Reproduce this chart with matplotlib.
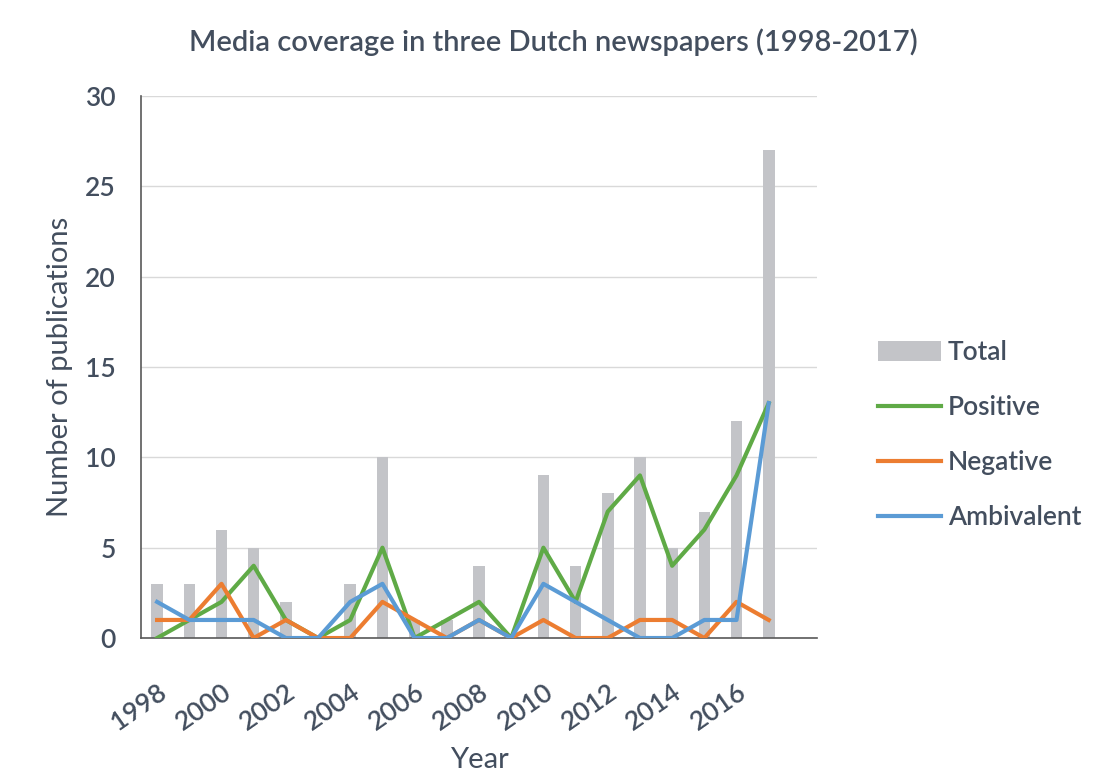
import matplotlib.pyplot as plt
import numpy as np

years = list(range(1998, 2018))
total = [3, 3, 6, 5, 2, 0, 3, 10, 1, 1, 4, 0, 9, 4, 8, 10, 5, 7, 12, 27]
positive = [0, 1, 2, 4, 1, 0, 1, 5, 0, 1, 2, 0, 5, 2, 7, 9, 4, 6, 9, 13]
negative = [1, 1, 3, 0, 1, 0, 0, 2, 1, 0, 1, 0, 1, 0, 0, 1, 1, 0, 2, 1]
ambivalent = [2, 1, 1, 1, 0, 0, 2, 3, 0, 0, 1, 0, 3, 2, 1, 0, 0, 1, 1, 13]

text_color = '#434E5E'
plt.rcParams['font.family'] = ['Lato', 'DejaVu Sans']
plt.rcParams['font.weight'] = 'semibold'

fig = plt.figure(figsize=(10.94, 7.73), dpi=100)
ax = fig.add_axes([0.1289, 0.1746, 0.6179, 0.7012])

x = np.arange(len(years))
bars = ax.bar(x, total, width=0.36, color='#C3C4C8', label='Total', zorder=2)
pos_line, = ax.plot(x, positive, color='#5FAA46', lw=3, label='Positive', zorder=3)
neg_line, = ax.plot(x, negative, color='#EC7D31', lw=3, label='Negative', zorder=4)
amb_line, = ax.plot(x, ambivalent, color='#5B9BD5', lw=3, label='Ambivalent', zorder=5)

ax.set_xlim(-0.5, len(years) + 0.5)
ax.set_ylim(0, 30)
ax.set_yticks(range(0, 31, 5))
ax.yaxis.grid(True, color='#D9D9D9', lw=1, zorder=0)
ax.set_axisbelow(True)

ax.set_xticks(x[::2])
ax.set_xticklabels([str(y) for y in years[::2]], rotation=35,
                   ha='right', va='top', rotation_mode='anchor')

for side in ['top', 'right']:
    ax.spines[side].set_visible(False)
for side in ['left', 'bottom']:
    ax.spines[side].set_color('#595959')
    ax.spines[side].set_linewidth(1.2)

ax.tick_params(axis='y', length=0, pad=18, labelsize=19, labelcolor=text_color)
ax.tick_params(axis='x', length=0, pad=30, labelsize=19, labelcolor=text_color)

ax.set_xlabel('Year', fontsize=21, color=text_color, labelpad=8)
ax.set_ylabel('Number of publications', fontsize=21, color=text_color, labelpad=9)

fig.text(0.506, 0.945, 'Media coverage in three Dutch newspapers (1998-2017)',
         ha='center', va='center', fontsize=21, color=text_color)

leg = fig.legend([bars, pos_line, neg_line, amb_line],
                 ['Total', 'Positive', 'Negative', 'Ambivalent'],
                 loc='center left', bbox_to_anchor=(0.781, 0.437), frameon=False,
                 fontsize=19, handlelength=2.4, handletextpad=0.25,
                 labelspacing=1.14, handleheight=0.75)
for t in leg.get_texts():
    t.set_color(text_color)

fig.savefig('out.png', dpi=100)
